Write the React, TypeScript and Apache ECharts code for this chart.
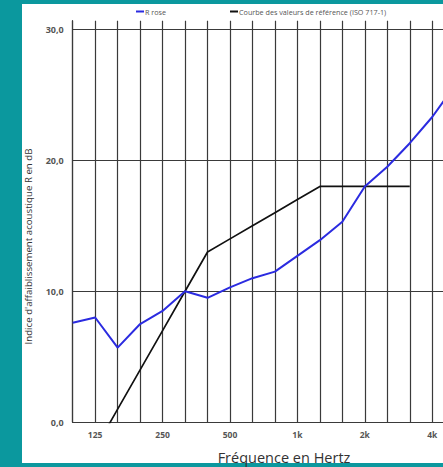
import React, { useEffect, useRef } from "react";
import * as echarts from "echarts";

const categories = ["100", "125", "160", "200", "250", "315", "400", "500", "630", "800", "1k", "1,25k", "1,6k", "2k", "2,5k", "3,15k", "4k", "5k"];
const rRose = [7.6, 8.0, 5.7, 7.5, 8.5, 10.0, 9.5, 10.3, 11.0, 11.5, 12.7, 13.9, 15.3, 18.0, 19.5, 21.3, 23.3, 25.7];
const reference = [-5, -2, 1, 4, 7, 10, 13, 14, 15, 16, 17, 18, 18, 18, 18, 18, null, null];
const yTicks = [0, 10, 20, 30];
const shownLabels = ["125", "250", "500", "1k", "2k", "4k"];

const FONT = "'Open Sans', 'Noto Sans', sans-serif";

export default function App() {
  const ref = useRef<HTMLDivElement>(null);
  useEffect(() => {
    if (!ref.current) return;
    const chart = echarts.init(ref.current, null, { renderer: "svg" });
    chart.setOption({
      animation: false,
      backgroundColor: "transparent",
      legend: {
        left: 136,
        top: 8,
        padding: 0,
        itemGap: 64,
        itemWidth: 8,
        itemHeight: 2,
        icon: "rect",
        textStyle: { fontSize: 7.2, color: "#555", fontFamily: FONT, padding: [0, 0, 0, -4] },
        data: ["R rose", "Courbe des valeurs de référence (ISO 717-1)"],
      },
      grid: { left: 72.7, top: 20.7, width: 382, height: 401.6, containLabel: false },
      xAxis: {
        type: "category",
        boundaryGap: false,
        data: categories,
        axisLine: { show: true, lineStyle: { color: "#3a3a3a", width: 1.2 } },
        axisTick: { show: false },
        axisLabel: {
          interval: 0,
          margin: 8,
          fontSize: 8.5,
          fontWeight: "bold",
          color: "#555",
          fontFamily: FONT,
          formatter: (v: string) => (shownLabels.includes(v) ? v : ""),
        },
        splitLine: { show: true, interval: 0, lineStyle: { color: "#3a3a3a", width: 1.2 } },
      },
      yAxis: {
        type: "value",
        min: 0,
        max: 30.65,
        interval: 10,
        axisLine: { show: true, lineStyle: { color: "#3a3a3a", width: 1.2 } },
        axisTick: { show: false },
        axisLabel: {
          margin: 9,
          fontSize: 9,
          fontWeight: "bold",
          color: "#555",
          fontFamily: FONT,
          showMaxLabel: false,
          formatter: (v: number) => (yTicks.includes(v) ? v.toFixed(1).replace(".", ",") : ""),
        },
        splitLine: { show: true, showMaxLine: false, lineStyle: { color: "#3a3a3a", width: 1.2 } },
      },
      graphic: [
        {
          type: "text",
          x: 28.5,
          y: 246.5,
          rotation: Math.PI / 2,
          style: {
            text: "Indice d'affaiblissement acoustique R en dB",
            fontSize: 9.7,
            fontFamily: FONT,
            fill: "#333",
            align: "center",
            verticalAlign: "middle",
          },
        },
        {
          type: "text",
          x: 284,
          y: 457,
          style: {
            text: "Fréquence en Hertz",
            fontSize: 14.5,
            fontFamily: FONT,
            fill: "#333",
            align: "center",
            verticalAlign: "middle",
          },
        },
      ],
      series: [
        {
          name: "R rose",
          type: "line",
          data: rRose,
          symbol: "none",
          clip: true,
          itemStyle: { color: "#2b2be0" },
          lineStyle: { color: "#2b2be0", width: 2 },
          z: 3,
        },
        {
          name: "Courbe des valeurs de référence (ISO 717-1)",
          type: "line",
          data: reference,
          symbol: "none",
          clip: true,
          itemStyle: { color: "#111" },
          lineStyle: { color: "#111", width: 1.7 },
          z: 2,
        },
      ],
    });
    return () => chart.dispose();
  }, []);

  return (
    <div style={{ position: "fixed", left: 0, top: 0, width: 443, height: 467, overflow: "hidden", background: "#0b989e" }}>
      <div style={{ position: "absolute", left: 22, top: 4, width: 500, height: 459, background: "#ffffff" }} />
      <div ref={ref} style={{ position: "absolute", left: 0, top: 0, width: 480, height: 467 }} />
    </div>
  );
}
